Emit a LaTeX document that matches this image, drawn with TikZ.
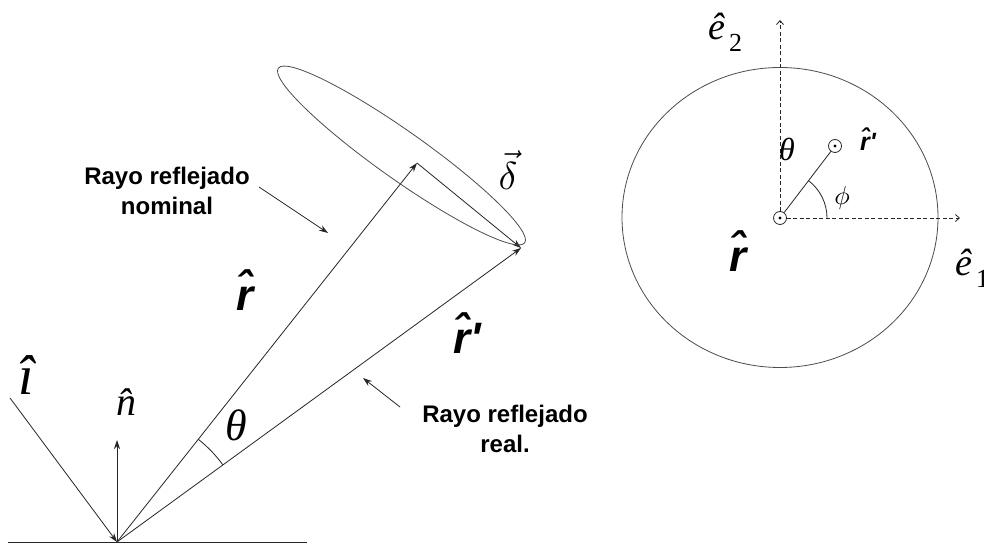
\documentclass[tikz,border=0pt]{standalone}
\usepackage{graphicx}
\usepackage{fontspec}
\setmainfont{Liberation Serif}
\newfontfamily\labfont{Liberation Sans}
\usetikzlibrary{arrows.meta}
\newcommand\rhatsym{\^{r}}
\newcommand\rbig{\labfont\bfseries\itshape\fontsize{44}{44}\selectfont}
\newcommand\rsmall{\labfont\bfseries\itshape\fontsize{25}{25}\selectfont}
\newcommand\greekit[1]{\itshape\fontsize{#1}{#1}\selectfont}
\newcommand\ehatsub[1]{{\itshape\fontsize{38}{38}\selectfont ê}\hspace{4pt}\raisebox{-12pt}{\fontsize{26}{26}\selectfont #1}}
\begin{document}
\begin{tikzpicture}[x=1pt,y=1pt,
  ln/.style={line width=0.8pt, draw=black!85},
  ray/.style={ln, -{Stealth[length=9pt,width=6pt]}},
  ax/.style={line width=0.8pt, draw=black!85, dash pattern=on 4pt off 2.5pt, -{Straight Barb[length=4pt,width=7pt]}},
  lab/.style={font=\labfont\bfseries\fontsize{24}{30}\selectfont, align=center, inner sep=0pt},
  sym/.style={inner sep=0pt},
  ptmark/.style={circle, draw=black!85, line width=0.8pt, minimum size=13pt, inner sep=0pt}
]
\useasboundingbox (0,0) rectangle (984,548);
\fill[white] (0,0) rectangle (984,548);

% ---------- left figure ----------
\coordinate (G1) at (8,6);
\coordinate (G2) at (307,6);
\coordinate (O) at (117,6);
\coordinate (I0) at (10,150);
\coordinate (N) at (117,108);
\coordinate (A) at (417,385);
\coordinate (B) at (521,300);
\coordinate (C) at (401.5,392.5);

\draw[ln] (G1) -- (G2);
\draw[ray] (I0) -- (O);
\draw[ray] (O) -- (N);
\draw[ray] (O) -- (A);
\draw[ray] (O) -- (B);
\draw[ray] (A) -- (B);
\draw[ln, draw=black!70, rotate around={-35.3:(C)}] (C) ellipse [x radius=151pt, y radius=24pt];
\draw[ln] ([shift={(36:131pt)}]O) arc[start angle=36, end angle=51.6, radius=131pt];

\node[sym, font=\greekit{56}] (ilab) at (26,173) {î};
\node[sym, font=\greekit{40}] (nlab) at (126,146) {\^{n}};
\node[sym, font=\greekit{44}] (thl) at (236,123) {θ};
\node[sym, font=\rbig] (rl) at (245,258) {\rhatsym};
\node[sym, font=\rbig] (rpl) at (467,215) {\rhatsym\symbol{39}};
\node[sym] (dl) at (508,378) {\scalebox{3.9}{$\vec{\delta}$}};

\node[lab, anchor=north] (nom) at (167,381) {Rayo reflejado\\nominal};
\coordinate (nomS) at (259,361);
\coordinate (nomE) at (328,315);
\draw[ray] (nomS) -- (nomE);

\node[lab, anchor=north] (real) at (505,143) {Rayo reflejado\\real.};
\coordinate (realS) at (400,141);
\coordinate (realE) at (363,170);
\draw[ray] (realS) -- (realE);

% ---------- right figure ----------
\coordinate (Ec) at (780,330.5);
\draw[ln, draw=black!70] (Ec) ellipse [x radius=158pt, y radius=150pt];
\node[ptmark] (o) at (780,330) {};
\node[ptmark] (rp) at (835,402) {};
\fill (o.center) circle (1.7pt);
\fill (rp.center) circle (1.7pt);
\coordinate (e2t) at (780,528);
\coordinate (e1t) at (960,330);
\draw[ax] (o.north) -- (e2t);
\draw[ax] (o.east) -- (e1t);
\draw[ln] (o) -- (rp);
\draw[ln] ([shift={(0:47pt)}]o.center) arc[start angle=0, end angle=52.6, radius=47pt];

\node[sym, font=\greekit{32}] (thr) at (787,399) {θ};
\node[sym] (phl) at (842,350) {\scalebox{2.6}{$\phi$}};
\node[sym, font=\rsmall] (rpr) at (868,409) {\rhatsym\symbol{39}};
\node[sym, font=\rbig] (rr) at (738,297) {\rhatsym};
\node[sym, anchor=west] (e2l) at (708,516) {\ehatsub{2}};
\node[sym, anchor=west] (e1l) at (955,280) {\ehatsub{1}};
\end{tikzpicture}
\end{document}
